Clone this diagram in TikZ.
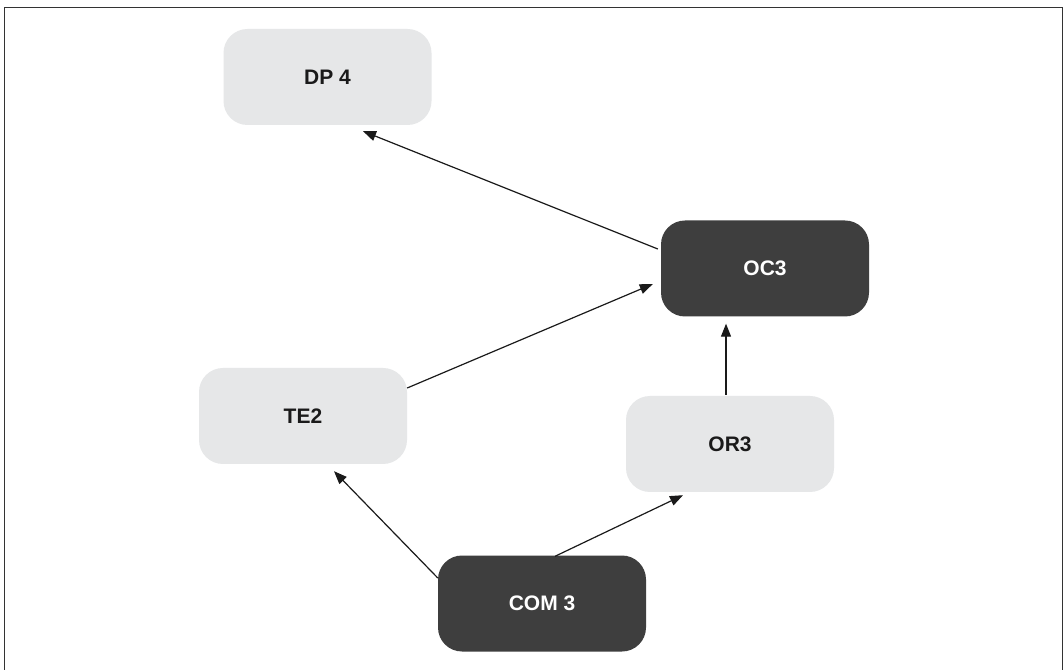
\documentclass[tikz,border=0pt]{standalone}
\usepackage{fontspec}
\setmainfont{Liberation Sans}
\usetikzlibrary{calc,arrows.meta}
\definecolor{lightbox}{HTML}{E6E7E8}
\definecolor{darkbox}{HTML}{3E3E3E}
\definecolor{framec}{HTML}{333333}
\definecolor{txtdark}{HTML}{1A1A1A}
\tikzset{
  x=1pt,y=1pt,
  boxbase/.style={rectangle, rounded corners=24pt, minimum width=208pt, minimum height=96pt,
    inner sep=0pt, font=\fontsize{21}{24}\selectfont\bfseries},
  lightnode/.style={boxbase, fill=lightbox, text=txtdark},
  darknode/.style={boxbase, fill=darkbox, text=white},
  conn/.style={draw=txtdark, line width=1.2pt, -{Triangle[length=13pt,width=10pt]}}
}
\begin{document}
\begin{tikzpicture}
\useasboundingbox (0,0) rectangle (1064,669);
\fill[white] (0,0) rectangle (1064,669);
\clip (0,0) rectangle (1064,669);
\draw[framec, line width=1.4pt] (4.5,-10) -- (4.5,661.5) -- (1062.5,661.5) -- (1062.5,-10);

\node[lightnode] (dp4) at (327.5,592) {DP 4};
\node[darknode]  (oc3) at (765,400.5) {OC3};
\node[lightnode] (te2) at (303,253) {TE2};
\node[lightnode] (or3) at (730,225) {OR3};
\node[darknode]  (com3) at (542,65.5) {COM 3};

\draw[conn] ($(oc3.west)+(-3,19.5)$) -- ($(dp4.south)+(35.5,-6)$);
\draw[conn] ($(te2.east)+(0,28)$) -- ($(oc3.west)+(-8,-15.5)$);
\draw[conn] ($(com3.west)+(0,25.5)$) -- ($(te2.south)+(31,-7)$);
\draw[conn] ($(com3.north)+(13,-1)$) -- ($(or3.south)+(-47,-3)$);
\draw[conn] ($(or3.north)+(-4,1)$) -- ($(oc3.south)+(-39,-7)$);
\end{tikzpicture}
\end{document}
